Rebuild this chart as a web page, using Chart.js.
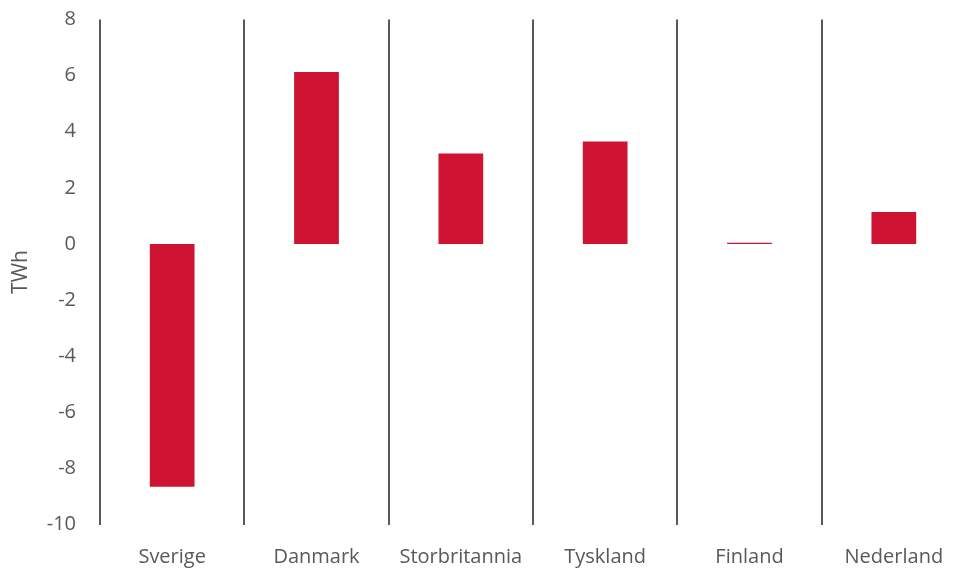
<!DOCTYPE html>
<html>
<head>
<meta charset="utf-8">
<script src="https://cdn.jsdelivr.net/npm/chart.js@4/dist/chart.umd.min.js"></script>
<style>
  html, body { margin: 0; padding: 0; background: #fff; overflow: hidden; }
  #wrap { width: 980px; height: 570px; }
</style>
</head>
<body>
<div id="wrap"><canvas id="myChart" width="980" height="570"></canvas></div>
<script>
var countries = ["Sverige", "Danmark", "Storbritannia", "Tyskland", "Finland", "Nederland"];
var netTWh = [-8.65, 6.13, 3.22, 3.65, 0.04, 1.14];
var yTicks = [-10, -8, -6, -4, -2, 0, 2, 4, 6, 8];

var textColor = "#595959";
var fontFam = "'Open Sans', 'Noto Sans', sans-serif";

// pin the plot area so the category separators line up with the y axis at x=100
var pinArea = {
  id: "pinArea",
  afterLayout: function (chart) {
    var a = chart.chartArea;
    var shift = a.top - 19.5;
    chart.scales.y.top -= shift;
    a.top -= shift;
    chart.scales.y.height = a.bottom - a.top;
    chart.scales.x.top = a.bottom;
    chart.scales.y.configure();
  }
};

new Chart("myChart", {
  type: "bar",
  data: {
    labels: countries,
    datasets: [{
      data: netTWh,
      backgroundColor: "#CE1432",
      borderWidth: 0,
      categoryPercentage: 1,
      barPercentage: 0.31
    }]
  },
  options: {
    responsive: false,
    animation: false,
    layout: { padding: { top: 0, right: 14, left: 0, bottom: 0 } },
    plugins: { legend: { display: false }, tooltip: { enabled: false } },
    scales: {
      x: {
        grid: {
          offset: true,
          drawTicks: false,
          color: "#595959",
          lineWidth: 2
        },
        border: { display: false },
        ticks: {
          color: textColor,
          padding: 21,
          font: { family: fontFam, size: 20 }
        },
        afterFit: function (scale) { scale.height = 45.5; }
      },
      y: {
        min: -10,
        max: 8,
        afterBuildTicks: function (scale) {
          scale.ticks = yTicks.map(function (v) { return { value: v }; });
        },
        grid: { display: false, drawTicks: false },
        border: { display: false },
        ticks: {
          color: textColor,
          padding: 24,
          font: { family: fontFam, size: 20 }
        },
        title: {
          display: true,
          text: "TWh",
          color: textColor,
          padding: { top: 8, bottom: 0 },
          font: { family: fontFam, size: 21 }
        },
        afterFit: function (scale) { scale.width = 100; }
      }
    }
  },
  plugins: [pinArea]
});
</script>
</body>
</html>
